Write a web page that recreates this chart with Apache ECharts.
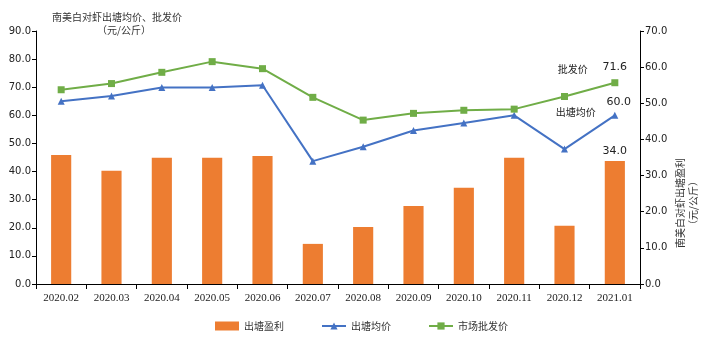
<!DOCTYPE html>
<html>
<head>
<meta charset="utf-8">
<script src="https://cdn.jsdelivr.net/npm/echarts@6/dist/echarts.min.js"></script>
<style>
  html, body { margin: 0; padding: 0; background: #fff; }
  #chart { width: 703px; height: 340px; }
</style>
</head>
<body>
<div id="chart"></div>
<script>
// Monthly categories
const months = ['2020.02','2020.03','2020.04','2020.05','2020.06','2020.07','2020.08','2020.09','2020.10','2020.11','2020.12','2021.01'];
// 出塘盈利 (right axis, 元/公斤)
const profit = [35.7, 31.3, 34.9, 34.9, 35.4, 11.1, 15.8, 21.6, 26.6, 34.9, 16.1, 34.0];
// 出塘均价 (left axis, 元/公斤)
const pondPrice = [65.0, 66.9, 69.9, 69.9, 70.7, 43.7, 48.8, 54.6, 57.3, 60.0, 48.0, 60.0];
// 市场批发价 (left axis, 元/公斤)
const wholesale = [69.1, 71.3, 75.3, 79.1, 76.6, 66.4, 58.3, 60.7, 61.8, 62.2, 66.7, 71.6];

const leftTicks = { min: 0, max: 90, interval: 10 };
const rightTicks = { min: 0, max: 70, interval: 10 };

const cjk = '"Noto Sans CJK SC", "Noto Sans", sans-serif';
const numFont = '"DejaVu Sans", sans-serif';
const axisColor = '#000';
const textColor = '#222';

const last = months.length - 1;

const chart = echarts.init(document.getElementById('chart'), null, { renderer: 'canvas' });

chart.setOption({
  animation: false,
  backgroundColor: '#fff',
  grid: { left: 36, right: 63, top: 31, bottom: 56, containLabel: false },
  graphic: [
    {
      type: 'text', left: 52, top: 12,
      style: { text: '南美白对虾出塘均价、批发价', font: '10px ' + cjk, fill: '#333' }
    },
    {
      type: 'text', left: 97, top: 25,
      style: { text: '（元/公斤）', font: '10px ' + cjk, fill: '#333' }
    },
    {
      type: 'text', x: 680, y: 203, rotation: Math.PI / 2,
      style: { text: '南美白对虾出塘盈利', font: '10px ' + cjk, fill: '#333', align: 'center', verticalAlign: 'middle' }
    },
    {
      type: 'text', x: 693, y: 203, rotation: Math.PI / 2,
      style: { text: '（元/公斤）', font: '10px ' + cjk, fill: '#333', align: 'center', verticalAlign: 'middle' }
    }
  ],
  legend: {
    bottom: 4,
    left: 210,
    itemGap: 37,
    itemWidth: 24,
    itemHeight: 9,
    textStyle: { fontFamily: cjk, fontSize: 10, color: '#333' },
    data: [
      { name: '出塘盈利', icon: 'rect' },
      { name: '出塘均价' },
      { name: '市场批发价' }
    ]
  },
  xAxis: {
    type: 'category',
    data: months,
    axisLine: { lineStyle: { color: axisColor, width: 1 } },
    axisTick: { show: true, alignWithLabel: false, length: 5, lineStyle: { color: axisColor } },
    axisLabel: { fontFamily: '"Liberation Serif", serif', fontSize: 11, color: textColor, margin: 9, interval: 0 }
  },
  yAxis: [
    {
      type: 'value',
      min: leftTicks.min, max: leftTicks.max, interval: leftTicks.interval,
      position: 'left',
      splitLine: { show: false },
      axisLine: { show: true, lineStyle: { color: axisColor } },
      axisTick: { show: true, length: 4, lineStyle: { color: axisColor } },
      axisLabel: { fontFamily: numFont, fontSize: 10, color: textColor, margin: 5, formatter: v => v.toFixed(1) }
    },
    {
      type: 'value',
      min: rightTicks.min, max: rightTicks.max, interval: rightTicks.interval,
      position: 'right',
      splitLine: { show: false },
      axisLine: { show: true, lineStyle: { color: axisColor } },
      axisTick: { show: true, length: 4, lineStyle: { color: axisColor } },
      axisLabel: { fontFamily: numFont, fontSize: 10, color: textColor, margin: 5, formatter: v => v.toFixed(1) }
    }
  ],
  series: [
    {
      name: '出塘盈利',
      type: 'bar',
      yAxisIndex: 1,
      barCategoryGap: '60%',
      itemStyle: { color: '#ED7D31' },
      data: profit.map((v, i) => i === last
        ? { value: v, label: { show: true, position: 'top', distance: 4, formatter: p => p.value.toFixed(1), fontFamily: numFont, fontSize: 11, color: textColor } }
        : v)
    },
    {
      name: '出塘均价',
      type: 'line',
      yAxisIndex: 0,
      symbol: 'triangle',
      symbolSize: 7,
      lineStyle: { color: '#4472C4', width: 2 },
      itemStyle: { color: '#4472C4' },
      data: pondPrice.map((v, i) => i === last
        ? { value: v, label: { show: true, position: 'top', distance: 4, offset: [4, 0], formatter: p => p.value.toFixed(1), fontFamily: numFont, fontSize: 11, color: textColor } }
        : v),
      markPoint: {
        symbol: 'circle', symbolSize: 0,
        label: { show: true, formatter: '出塘均价', fontFamily: cjk, fontSize: 10, color: textColor, offset: [-39, -3] },
        data: [{ coord: [last, pondPrice[last]] }]
      }
    },
    {
      name: '市场批发价',
      type: 'line',
      yAxisIndex: 0,
      symbol: 'rect',
      symbolSize: 7,
      lineStyle: { color: '#70AD47', width: 2 },
      itemStyle: { color: '#70AD47' },
      data: wholesale.map((v, i) => i === last
        ? { value: v, label: { show: true, position: 'top', distance: 7, formatter: p => p.value.toFixed(1), fontFamily: numFont, fontSize: 11, color: textColor } }
        : v),
      markPoint: {
        symbol: 'circle', symbolSize: 0,
        label: { show: true, formatter: '批发价', fontFamily: cjk, fontSize: 10, color: textColor, offset: [-42, -14] },
        data: [{ coord: [last, wholesale[last]] }]
      }
    }
  ]
});
</script>
</body>
</html>
